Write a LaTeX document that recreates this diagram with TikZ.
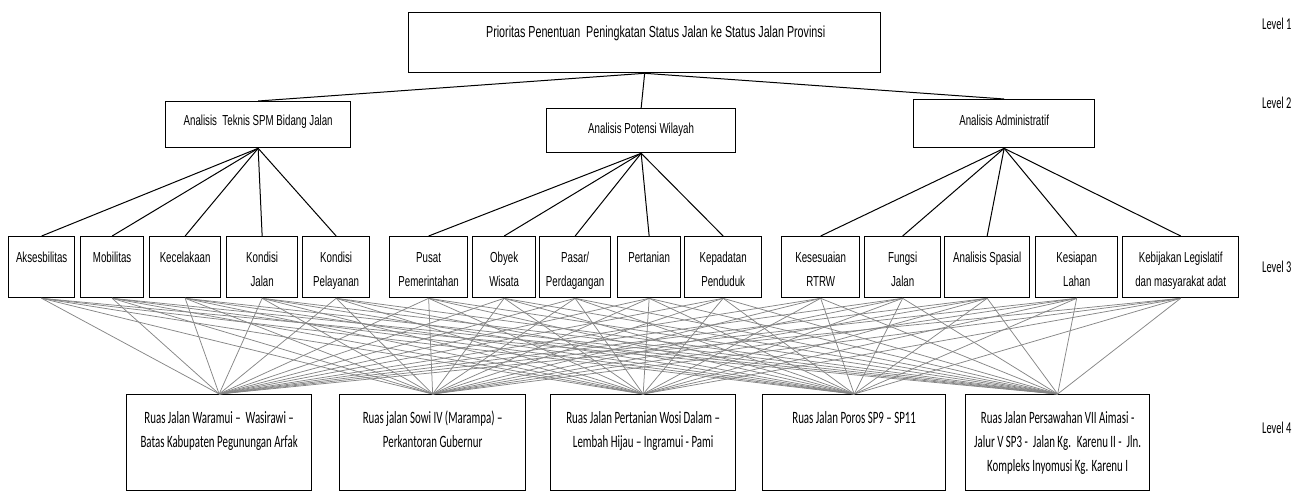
\documentclass[tikz,border=0pt]{standalone}
\usepackage{fontspec}
\setmainfont{Liberation Sans}[FakeStretch=0.67]
\newfontfamily\calfont{Carlito}[FakeStretch=0.63]
\newcommand\bx[8]{%
  \node[#1, anchor=north west] (#2) at (#3,#4)
    {\parbox[c][\dimexpr #6pt-#4pt\relax][t]{\dimexpr #5pt-#3pt\relax}{\centering\rule{0pt}{#7pt}#8\par}};%
}
\tikzset{
  boxA/.style={draw, line width=1.3pt, inner sep=0pt, font=\fontsize{14.5}{24}\selectfont},
  boxT/.style={boxA, font=\fontsize{16}{24}\selectfont},
  boxD/.style={draw, line width=1.3pt, inner sep=0pt, font=\calfont\fontsize{17.3}{24}\selectfont},
  lvl/.style={anchor=base west, inner sep=0pt, font=\calfont\fontsize{16.5}{18}\selectfont},
  blackline/.style={draw=black, line width=1pt},
  greyline/.style={draw=gray!95, line width=0.75pt},
}
\begin{document}
\begin{tikzpicture}[x=1pt, y=-1pt]
\useasboundingbox (0,0) rectangle (1305,491);
% Level 1
\bx{boxT}{a}{408}{12}{880}{72}{25}{\hspace*{22pt}Prioritas Penentuan \ Peningkatan Status Jalan ke Status Jalan Provinsi}
% Level 2
\bx{boxA}{b1}{165}{101}{350}{147}{24}{Analisis \ Teknis SPM Bidang Jalan}
\bx{boxA}{b2}{546}{108}{735}{152}{25}{Analisis Potensi Wilayah}
\bx{boxA}{b3}{913}{99}{1094}{147}{26}{Analisis Administratif}
% Level 3
\bx{boxA}{c1}{8}{236}{74}{297}{25.5}{Aksesbilitas}
\bx{boxA}{c2}{80}{236}{143}{297}{25.5}{Mobilitas}
\bx{boxA}{c3}{149}{236}{220}{297}{25.5}{Kecelakaan}
\bx{boxA}{c4}{226}{236}{297}{297}{25.5}{Kondisi\\Jalan}
\bx{boxA}{c5}{302}{236}{369}{297}{25.5}{Kondisi\\Pelayanan}
\bx{boxA}{c6}{389}{236}{467}{297}{25.5}{Pusat\\Pemerintahan}
\bx{boxA}{c7}{472}{236}{535}{297}{25.5}{Obyek\\Wisata}
\bx{boxA}{c8}{539}{236}{610}{297}{25.5}{Pasar/\\Perdagangan}
\bx{boxA}{c9}{617}{236}{680}{297}{25.5}{Pertanian}
\bx{boxA}{c10}{684}{236}{761}{297}{25.5}{Kepadatan\\Penduduk}
\bx{boxA}{c11}{781}{236}{859}{297}{25.5}{Kesesuaian\\RTRW}
\bx{boxA}{c12}{864}{236}{940}{297}{25.5}{Fungsi\\Jalan}
\bx{boxA}{c13}{944}{236}{1029}{297}{25.5}{Analisis Spasial}
\bx{boxA}{c14}{1035}{236}{1117}{297}{25.5}{Kesiapan\\Lahan}
\bx{boxA}{c15}{1122}{236}{1238}{297}{25.5}{Kebijakan Legislatif\\dan masyarakat adat}
% Level 4
\bx{boxD}{d1}{126}{394}{311}{490}{29}{Ruas Jalan Waramui – \ Wasirawi –\\Batas Kabupaten Pegunungan Arfak}
\bx{boxD}{d2}{339}{394}{525}{490}{29}{Ruas jalan Sowi IV (Marampa) –\\Perkantoran Gubernur}
\bx{boxD}{d3}{550}{394}{735}{490}{29}{Ruas Jalan Pertanian Wosi Dalam –\\Lembah Hijau – Ingramui - Pami}
\bx{boxD}{d4}{762}{394}{945}{490}{29}{Ruas Jalan Poros SP9 – SP11}
\bx{boxD}{d5}{965}{394}{1149}{490}{29}{Ruas Jalan Persawahan VII Aimasi -\\Jalur V SP3 - \ Jalan Kg. \ Karenu II - \ Jln.\\Kompleks Inyomusi Kg. Karenu I}
% Level labels
\node[lvl] (l1) at (1262,29) {Level 1};
\node[lvl] (l2) at (1262,108) {Level 2};
\node[lvl] (l3) at (1262,272) {Level 3};
\node[lvl] (l4) at (1262,433) {Level 4};
% connectors
\foreach \b in {b1,b2,b3} \draw[blackline] (a.south) -- (\b.north);
\foreach \c in {c1,c2,c3,c4,c5} \draw[blackline] (b1.south) -- (\c.north);
\foreach \c in {c6,c7,c8,c9,c10} \draw[blackline] (b2.south) -- (\c.north);
\foreach \c in {c11,c12,c13,c14,c15} \draw[blackline] (b3.south) -- (\c.north);
\foreach \c in {c1,c2,c3,c4,c5,c6,c7,c8,c9,c10,c11,c12,c13,c14,c15}
  \foreach \d in {d1,d2,d3,d4,d5}
    \draw[greyline] (\c.south) -- (\d.north);
\end{tikzpicture}
\end{document}
